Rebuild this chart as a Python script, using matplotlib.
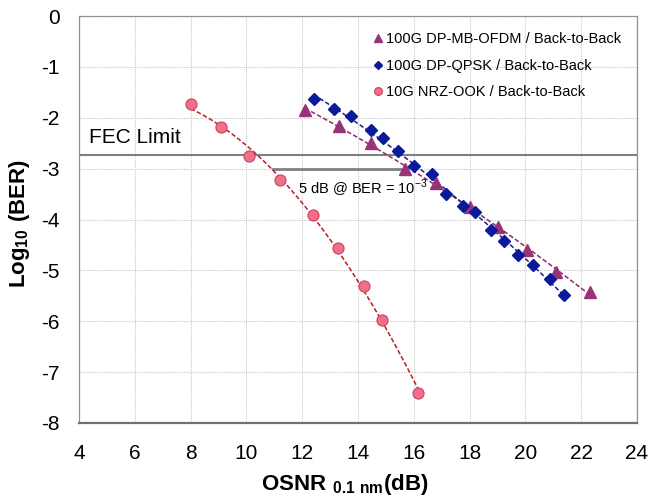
import numpy as np
import matplotlib
matplotlib.use("Agg")
import matplotlib.pyplot as plt

# ---- data ----
ook_x = [8.0, 9.1, 10.1, 11.2, 12.4, 13.3, 14.2, 14.85, 16.15]
ook_y = [-1.73, -2.18, -2.75, -3.22, -3.92, -4.56, -5.30, -5.98, -7.41]

ofdm_x = [12.1, 13.33, 14.48, 15.68, 16.78, 18.0, 19.02, 20.05, 21.1, 22.32]
ofdm_y = [-1.85, -2.16, -2.49, -3.01, -3.28, -3.75, -4.14, -4.6, -5.03, -5.43]

qpsk_x = [12.41, 13.15, 13.75, 14.48, 14.89, 15.44, 16.01, 16.64, 17.16, 17.76,
          18.2, 18.75, 19.24, 19.72, 20.27, 20.88, 21.4]
qpsk_y = [-1.63, -1.83, -1.96, -2.24, -2.39, -2.66, -2.95, -3.10, -3.50, -3.73,
          -3.86, -4.21, -4.42, -4.69, -4.90, -5.16, -5.48]

fec_limit = -2.73
ref_ber = -3.0
ref_x = [10.95, 15.65]

xticks = [4, 6, 8, 10, 12, 14, 16, 18, 20, 22, 24]
yticks = [0, -1, -2, -3, -4, -5, -6, -7, -8]

labels = ["100G DP-MB-OFDM / Back-to-Back",
          "100G DP-QPSK / Back-to-Back",
          "10G NRZ-OOK / Back-to-Back"]

# ---- fonts ----
plt.rcParams["font.family"] = ["Liberation Sans", "DejaVu Sans"]
plt.rcParams["axes.unicode_minus"] = False
plt.rcParams["mathtext.fontset"] = "custom"
plt.rcParams["mathtext.rm"] = "Liberation Sans"
plt.rcParams["mathtext.bf"] = "Liberation Sans:bold"

fig = plt.figure(figsize=(6.49, 4.96), dpi=100)
ax = fig.add_axes([79/649, 1-423/496, (637-79)/649, (423-16)/496])

ax.set_xlim(4, 24)
ax.set_ylim(-8, 0)
ax.set_xticks(xticks)
ax.set_yticks(yticks)
ax.tick_params(length=0, labelsize=15)
ax.tick_params(axis="x", pad=15)
ax.tick_params(axis="y", pad=14)

ax.grid(True, color="#c8c8c8", linestyle=(0, (1, 1)), linewidth=0.8)
ax.set_axisbelow(True)
for s in ["top", "right", "left"]:
    ax.spines[s].set_color("#909090")
    ax.spines[s].set_linewidth(0.9)
ax.spines["bottom"].set_color("#707070")
ax.spines["bottom"].set_linewidth(1.6)

# fit lines
def fit(x, y, deg=2):
    x = np.asarray(x); y = np.asarray(y)
    p = np.polyfit(x, y, deg)
    xs = np.linspace(x.min(), x.max(), 100)
    return xs, np.polyval(p, xs)

xs, ys = fit(ook_x, ook_y)
ax.plot(xs, ys, linestyle=(0, (3, 1.5)), color="#B81E28", lw=1.1, zorder=3)
xs, ys = fit(ofdm_x, ofdm_y)
ax.plot(xs, ys, linestyle=(0, (3, 1.5)), color="#8B2A6B", lw=1.1, zorder=3)
xs, ys = fit(qpsk_x, qpsk_y)
ax.plot(xs, ys, linestyle=(0, (3, 1.5)), color="#1A237E", lw=1.1, zorder=3)

# FEC limit and reference
ax.axhline(fec_limit, color="#808080", lw=1.5, zorder=2)
ax.plot(ref_x, [ref_ber, ref_ber], color="#808080", lw=2.0, zorder=2)

m1, = ax.plot(ofdm_x, ofdm_y, linestyle="none", marker="^", markersize=8,
              color="#993377", markeredgecolor="#993377", zorder=4)
m2, = ax.plot(qpsk_x, qpsk_y, linestyle="none", marker="D", markersize=6,
              color="#0A1A9A", markeredgecolor="#0A1A9A", zorder=5)
m3, = ax.plot(ook_x, ook_y, linestyle="none", marker="o", markersize=8,
              color="#F0708A", markeredgecolor="#D04060", markeredgewidth=0.8, zorder=4)

leg = ax.legend([m1, m2, m3], labels, loc="upper right", frameon=False,
                prop={"size": 10.5}, handlelength=0.6, handletextpad=0.25,
                labelspacing=0.85, borderaxespad=0.3, markerscale=0.7,
                bbox_to_anchor=(0.99, 0.985))

ax.text(4.36, -2.38, "FEC Limit", fontsize=15, va="center", ha="left")
ax.text(11.85, -3.38, r"5 dB @ BER = 10$^{-3}$", fontsize=10.5, va="center", ha="left")

ax.set_ylabel(r"$\mathbf{Log_{10}\ (BER)}$", fontsize=16)
ax.yaxis.set_label_coords(-0.084, 0.49)
ax.set_xlabel(r"$\mathbf{OSNR\ {}_{0.1\ nm}(dB)}$", fontsize=16, va="top")
ax.xaxis.set_label_coords(0.477, -0.12)

fig.savefig("out.png", dpi=100)
